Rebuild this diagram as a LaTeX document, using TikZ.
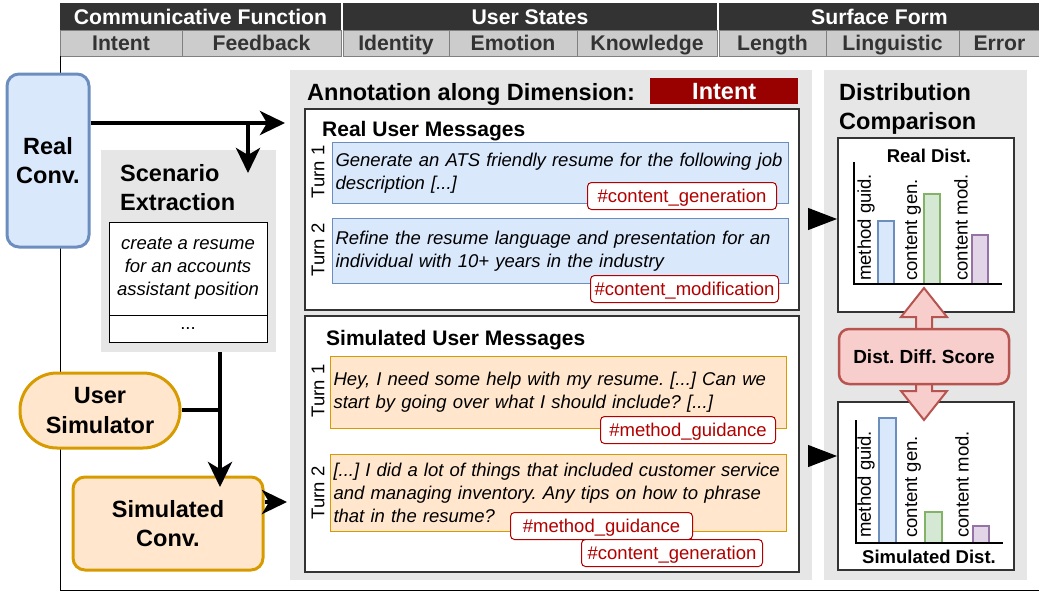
\documentclass[tikz,border=0pt]{standalone}
\usepackage{fontspec}
\setmainfont{Liberation Sans}
\usepackage{tikz}
\usetikzlibrary{arrows.meta, positioning}
\frenchspacing

\definecolor{hdrDark}{HTML}{333333}
\definecolor{hdrLight}{HTML}{CCCCCC}
\definecolor{hdrLine}{HTML}{808080}
\definecolor{panelGray}{HTML}{E6E6E6}
\definecolor{convBlue}{HTML}{6C8EBF}
\definecolor{convBlueFill}{HTML}{DAE8FC}
\definecolor{convOrange}{HTML}{D79B00}
\definecolor{convOrangeFill}{HTML}{FFE6CC}
\definecolor{intentRed}{HTML}{990000}
\definecolor{tagRed}{HTML}{B20000}
\definecolor{scoreRed}{HTML}{B85450}
\definecolor{scoreFill}{HTML}{F8CECC}
\definecolor{barGreen}{HTML}{82B366}
\definecolor{barGreenFill}{HTML}{D5E8D4}
\definecolor{barPurple}{HTML}{9673A6}
\definecolor{barPurpleFill}{HTML}{E1D5E7}

\newcommand{\hdrfont}{\fontsize{21.2}{24}\selectfont\bfseries}
\newcommand{\convfont}{\fontsize{23.5}{29.5}\selectfont\bfseries}
\newcommand{\titfont}{\fontsize{21}{25}\selectfont\bfseries}
\newcommand{\msgfont}{\fontsize{18.5}{23}\selectfont}

\tikzset{
    dimcat/.style = {fill=hdrDark, text=white, font=\hdrfont, minimum height=27pt, inner sep=0pt, outer sep=0pt, text height=15pt, text depth=0pt, anchor=north west},
    dimsub/.style = {fill=hdrLight, draw=hdrLine, line width=1pt, text=hdrDark, font=\hdrfont, minimum height=26pt, inner sep=0pt, outer sep=0pt, text height=15pt, text depth=0pt, anchor=north west},
    conv/.style = {rectangle, rounded corners=12pt, line width=3pt, font=\convfont, align=center, inner sep=0pt},
    realconv/.style = {conv, draw=convBlue, fill=convBlueFill},
    simconv/.style = {conv, draw=convOrange, fill=convOrangeFill},
    usersim/.style = {conv, rounded corners=37pt, draw=convOrange, fill=convOrangeFill},
    panel/.style = {fill=panelGray, inner sep=0pt, outer sep=0pt, anchor=north west},
    scenbox/.style = {draw=black, line width=1pt, fill=white, minimum width=158pt, inner sep=0pt, outer sep=0pt, anchor=north west, align=center, font=\msgfont},
    bigtitle/.style = {font=\convfont, align=left, anchor=north west, inner sep=0pt},
    dimbadge/.style = {fill=intentRed, text=white, font=\convfont, inner sep=0pt, text height=17pt, text depth=0pt, anchor=north west},
    msgbox/.style = {draw=hdrDark, line width=1.5pt, fill=white, inner sep=0pt, anchor=north west},
    msgtitle/.style = {font=\titfont, anchor=base west, inner sep=0pt},
    turnbox/.style = {anchor=north west, minimum width=456pt, text width=450pt, inner xsep=3pt, inner ysep=0pt, align=left, font=\msgfont\itshape, line width=1pt},
    realturn/.style = {turnbox, draw=convBlue, fill=convBlueFill},
    simturn/.style = {turnbox, draw=convOrange, fill=convOrangeFill},
    turnlbl/.style = {rotate=90, font=\msgfont, inner sep=0pt},
    tag/.style = {draw=tagRed, text=tagRed, fill=white, rounded corners=4pt, line width=1pt, anchor=north west, minimum height=27pt, inner sep=0pt, font=\msgfont, text height=13pt, text depth=0pt},
    chartbox/.style = {draw=hdrDark, line width=1.5pt, fill=white, minimum width=176pt, anchor=north west, inner sep=0pt},
    charttitle/.style = {font=\fontsize{18.5}{22}\selectfont\bfseries, anchor=base, inner sep=0pt},
    barlbl/.style = {rotate=90, anchor=west, font=\msgfont, inner sep=0pt},
    axis/.style = {line width=1.5pt, black},
    barblue/.style = {draw=convBlue, fill=convBlueFill, line width=1.5pt},
    bargreen/.style = {draw=barGreen, fill=barGreenFill, line width=1.5pt},
    barpurple/.style = {draw=barPurple, fill=barPurpleFill, line width=1.5pt},
    score/.style = {draw=scoreRed, fill=scoreFill, line width=2.5pt, rounded corners=10pt, font=\fontsize{19}{23}\selectfont\bfseries, inner sep=0pt},
    diffarrow/.style = {draw=scoreRed, fill=scoreFill, line width=2pt, line join=miter},
    flow/.style = {line width=4pt},
    tri/.style = {line width=1pt, -{Triangle[length=29pt, width=22pt]}, shorten <=9pt}
}

\begin{document}
\begin{tikzpicture}[x=1pt, y=-1pt, >={Stealth[length=25pt, width=24pt, inset=7pt]}]
    \useasboundingbox (0,0) rectangle (1039,592);

    % Cabecera
    \node [dimcat, minimum width=281pt] (commFunc) at (60,3) {Communicative Function};
    \node [dimcat, minimum width=374pt, right=2pt of commFunc] (userStates) {User States};
    \node [dimcat, minimum width=321pt, right=2pt of userStates] (surfForm) {Surface Form};
    \node [dimsub, minimum width=122pt] (intent) at (60,30) {Intent};
    \node [dimsub, minimum width=159pt, right=0pt of intent] (feedback) {Feedback};
    \node [dimsub, minimum width=106pt, right=2pt of feedback] (identity) {Identity};
    \node [dimsub, minimum width=128pt, right=0pt of identity] (emotion) {Emotion};
    \node [dimsub, minimum width=140pt, right=0pt of emotion] (knowledge) {Knowledge};
    \node [dimsub, minimum width=107pt, right=2pt of knowledge] (length) {Length};
    \node [dimsub, minimum width=133pt, right=0pt of length] (linguistic) {Linguistic};
    \node [dimsub, minimum width=81pt, right=0pt of linguistic] (error) {Error};

    % Marco
    \draw [line width=1pt] (intent.south west) -- (60,590.5) -- (1039,590.5);

    % Nodos de la izquierda
    \node [realconv, minimum width=82pt, minimum height=173pt] (realConv) at (48,160.5) {Real\\Conv.};
    \node [panel, minimum width=175pt, minimum height=202pt] (scenPanel) at (101,150) {};
    \node [bigtitle] (scenTitle) at (120,164) {Scenario\\Extraction};
    \node [scenbox, minimum height=93pt, font=\msgfont\itshape] (scenText) at (109,222) {create a resume\\for an accounts\\assistant position};
    \node [scenbox, minimum height=27pt, below=0pt of scenText] (scenDots) {...};
    \node [usersim, minimum width=160pt, minimum height=75pt] (userSim) at (100,410.5) {User\\Simulator};
    \node [simconv, minimum width=190pt, minimum height=93pt] (simConv) at (168,523.5) {Simulated\\Conv.};

    % Anotacion
    \node [panel, minimum width=522pt, minimum height=510pt] (annoPanel) at (290,70) {};
    \node [font=\convfont, anchor=base west, inner sep=0pt] (annoTitle) at (307,100) {Annotation along Dimension:};
    \node [dimbadge, minimum width=148pt, minimum height=26pt] (annoDim) at (650,78) {Intent};

    \node [msgbox, minimum width=494pt, minimum height=201pt] (realMsgs) at (304,108) {};
    \node [msgtitle] (realTitle) at (322,136) {Real User Messages};
    \node [realturn, minimum height=61pt] (realT1) at (332,142) {Generate an ATS friendly resume for the following job\\description [...]};
    \node [turnlbl] (realL1) at (318,172) {Turn 1};
    \node [tag, minimum width=189pt] (tagGen) at (587,182) {\#content\_generation};
    \node [realturn, minimum height=65pt] (realT2) at (332,218) {Refine the resume language and presentation for an\\individual with 10+ years in the industry};
    \node [turnlbl] (realL2) at (318,250) {Turn 2};
    \node [tag, minimum width=188pt] (tagMod) at (590,275) {\#content\_modification};

    \node [msgbox, minimum width=494pt, minimum height=256pt] (simMsgs) at (304,315) {};
    \node [msgtitle] (simTitle) at (326,345) {Simulated User Messages};
    \node [simturn, minimum height=72pt] (simT1) at (330,356) {Hey, I need some help with my resume. [...] Can we\\start by going over what I should include? [...]};
    \node [turnlbl] (simL1) at (318,391) {Turn 1};
    \node [tag, minimum width=175pt] (tagGuid) at (600,416) {\#method\_guidance};
    \node [simturn, minimum height=77pt] (simT2) at (330,454) {[...] I did a lot of things that included customer service\\and managing inventory. Any tips on how to phrase\\that in the resume?};
    \node [turnlbl] (simL2) at (318,493) {Turn 2};
    \node [tag, minimum width=182pt] (tagGuidB) at (510,512) {\#method\_guidance};
    \node [tag, minimum width=181pt] (tagGenB) at (581,539) {\#content\_generation};

    % Comparacion de distribuciones
    \node [panel, minimum width=203pt, minimum height=510pt] (distPanel) at (824,70) {};
    \node [bigtitle] (distTitle) at (839,83) {Distribution\\Comparison};

    \node [chartbox, minimum height=174pt] (realChart) at (837,137) {};
    \node [charttitle] (realDist) at (929,162) {Real Dist.};
    \draw [barblue] (878,284) rectangle (894,221);
    \draw [bargreen] (924,284) rectangle (940,194);
    \draw [barpurple] (972,284) rectangle (988,235);
    \draw [axis] (854,162) -- (854,284) -- (1002,284);
    \node [barlbl] (realLblA) at (866,281) {method guid.};
    \node [barlbl] (realLblB) at (913,281) {content gen.};
    \node [barlbl] (realLblC) at (961,281) {content mod.};

    \node [chartbox, minimum height=168pt] (simChart) at (837,401) {};
    \draw [barblue] (879,543) rectangle (896,418);
    \draw [bargreen] (925,543) rectangle (942,512);
    \draw [barpurple] (973,543) rectangle (989,526);
    \draw [axis] (856,420) -- (856,543) -- (1003,543);
    \node [barlbl] (simLblA) at (866,538) {method guid.};
    \node [barlbl] (simLblB) at (913,538) {content gen.};
    \node [barlbl] (simLblC) at (962,538) {content mod.};
    \node [charttitle] (simDist) at (929,563) {Simulated Dist.};

    % Flecha doble y puntuacion
    \draw [diffarrow] (924,288) -- (947,317) -- (932,317) -- (932,391) -- (947,391) -- (924,420)
        -- (901,391) -- (916,391) -- (916,317) -- (901,317) -- cycle;
    \node [score, minimum width=170pt, minimum height=55pt] (diffScore) at (924,356.5) {Dist. Diff. Score};

    % Flechas
    \coordinate (realIn) at (285,123);
    \coordinate (scenIn) at (248,173);
    \coordinate (merge) at (220,410);
    \coordinate (simIn) at (220,487);
    \coordinate (simOut) at (287,502);
    \coordinate (realTip) at (837,219);
    \coordinate (simTip) at (837,456);

    \draw [flow, ->] (realConv.east |- realIn) -- (realIn);
    \draw [flow, ->] (scenIn |- realIn) -- (scenIn); % hacia la extraccion
    \draw [flow, ->] (scenPanel.south -| simIn) -- (simIn);
    \draw [flow] (userSim.east |- merge) -- (merge);
    \draw [flow, ->] (simConv.east |- simOut) -- (simOut);
    \draw [tri] (realMsgs.east |- realTip) -- (realChart.west |- realTip);
    \draw [tri] (simMsgs.east |- simTip) -- (simChart.west |- simTip);
\end{tikzpicture}
\end{document}
